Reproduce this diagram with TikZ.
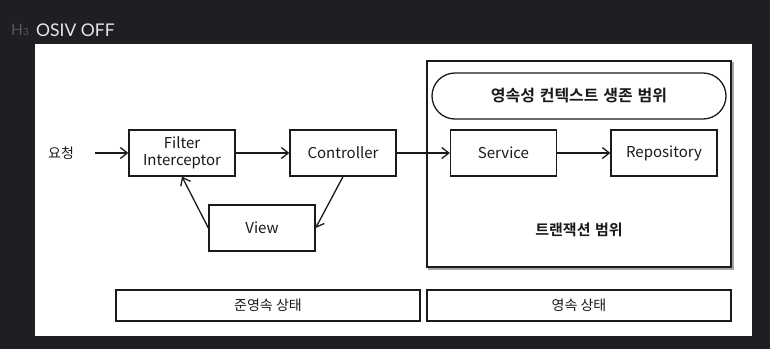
\documentclass[tikz,border=0pt]{standalone}
\usepackage{fontspec}
\setmainfont{Noto Sans CJK KR}[BoldFont={Noto Sans CJK KR Bold}]
\newfontfamily\latofont{Lato}
\usetikzlibrary{arrows.meta}
\definecolor{bgdark}{HTML}{1E1F22}
\definecolor{ink}{HTML}{1A1A1A}
\definecolor{hgray}{HTML}{55565A}
\definecolor{titlecol}{HTML}{E6E6E6}
\tikzset{
  boxnode/.style={draw=ink, line width=1.3pt, minimum width=106pt, minimum height=46pt, inner sep=0pt, align=center, font=\fontsize{15}{17}\selectfont, text=ink},
  statebox/.style={draw=ink, line width=1.3pt, minimum width=304pt, minimum height=31pt, inner sep=0pt, font=\fontsize{14}{16}\selectfont, text=ink},
  conn/.style={draw=ink, line width=1.3pt, -{Straight Barb[length=7pt,width=11pt,line width=1.3pt]}},
  shadowline/.style={draw=black!35, line width=2pt},
}
\newcommand{\wsp}{\hspace{0.3em}}
\begin{document}
\begin{tikzpicture}[x=1pt,y=-1pt]
  \useasboundingbox (0,0) rectangle (770,349);
  \fill[bgdark] (0,0) rectangle (770,349);
  % header
  \node[anchor=base west, inner sep=0pt, text=hgray, font=\latofont\fontsize{15.5}{16}\selectfont] (hlabel) at (11,35.5) {H\fontsize{10}{10}\selectfont 3};
  \node[anchor=base west, inner sep=0pt, text=titlecol, font=\latofont\fontsize{17.5}{18}\selectfont] (title) at (36,36) {OSIV OFF};
  % white panel
  \fill[white] (35,44) rectangle (752,336);
  % transaction box with shadow
  \draw[shadowline] (429,63) rectangle (733,269);
  \node[draw=ink, fill=white, line width=1.3pt, minimum width=304pt, minimum height=206pt, inner sep=0pt] (tx) at (579,164) {};
  \node[draw=ink, line width=1.3pt, rounded corners=23pt, minimum width=294pt, minimum height=46pt, inner sep=0pt, font=\bfseries\fontsize{16}{18}\selectfont, text=ink] (pc) at (579,96) {영속성\wsp 컨텍스트\wsp 생존\wsp 범위};
  \node[inner sep=0pt, font=\bfseries\fontsize{15}{17}\selectfont, text=ink] (txlabel) at (579,230) {트랜잭션\wsp 범위};
  % flow boxes
  \node[boxnode] (filter) at (182,153) {Filter\\Interceptor};
  \node[boxnode] (ctrl) at (343,153) {Controller};
  \node[boxnode] (view) at (262,228) {View};
  \node[boxnode, fill=white] (svc) at (503.5,153) {Service};
  \node[boxnode, fill=white] (repo) at (664,153) {Repository};
  \node[inner sep=0pt, font=\fontsize{14}{16}\selectfont, text=ink] (req) at (61,153) {요청};
  % connectors
  \draw[conn] ([xshift=21pt]req.east) -- (filter.west);
  \draw[conn] (filter.east) -- (ctrl.west);
  \draw[conn] (ctrl.east) -- (svc.west);
  \draw[conn] (svc.east) -- (repo.west);
  \draw[conn] (ctrl.south) -- (view.east);
  \draw[conn] (view.west) -- (filter.south);
  % state boxes
  \node[statebox] (detached) at (268,305.5) {준영속 상태};
  \node[statebox] (managed) at (579,305.5) {영속 상태};
\end{tikzpicture}
\end{document}
